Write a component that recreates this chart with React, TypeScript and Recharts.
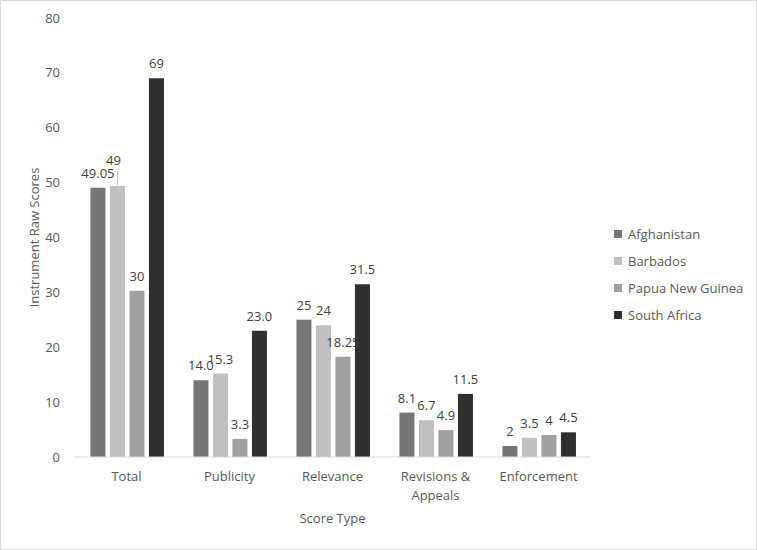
import { BarChart, Bar, XAxis, YAxis, LabelList } from "recharts";

const categories = ["Total", "Publicity", "Relevance", "Revisions & Appeals", "Enforcement"];

const afghanistan = [49.05, 14.0, 25, 8.1, 2];
const barbados = [49.4, 15.2, 24, 6.7, 3.5];
const papuaNewGuinea = [30.3, 3.3, 18.25, 4.9, 4];
const southAfrica = [69, 23.0, 31.5, 11.5, 4.5];

const afghanistanLabels = ["49.05", "14.0", "25", "8.1", "2"];
const barbadosLabels = ["49", "15.3", "24", "6.7", "3.5"];
const papuaNewGuineaLabels = ["30", "3.3", "18.25", "4.9", "4"];
const southAfricaLabels = ["69", "23.0", "31.5", "11.5", "4.5"];

const yTicks = [0, 10, 20, 30, 40, 50, 60, 70, 80];

const FONT = "'Open Sans', 'Liberation Sans', sans-serif";
const TEXT = "#595959";

const series = [
  { key: "Afghanistan", color: "#767676", values: afghanistan, labels: afghanistanLabels, lifted: [] as number[] },
  { key: "Barbados", color: "#c0c0c0", values: barbados, labels: barbadosLabels, lifted: [0] },
  { key: "Papua New Guinea", color: "#a0a0a0", values: papuaNewGuinea, labels: papuaNewGuineaLabels, lifted: [] as number[] },
  { key: "South Africa", color: "#303030", values: southAfrica, labels: southAfricaLabels, lifted: [] as number[] },
];

const data = categories.map((category, i) => {
  const row: Record<string, string | number> = { category };
  series.forEach((s) => {
    row[s.key] = s.values[i];
  });
  return row;
});

// wrap long category names onto two lines, like Excel does
const wrap = (label: string, max = 12) => {
  const lines: string[] = [];
  let cur = "";
  label.split(" ").forEach((w) => {
    const next = cur ? cur + " " + w : w;
    if (next.length > max && cur) {
      lines.push(cur);
      cur = w;
    } else {
      cur = next;
    }
  });
  if (cur) lines.push(cur);
  return lines;
};

const CategoryTick = (props: any) => {
  const { x, y, payload } = props;
  const lines = wrap(String(payload.value));
  return (
    <text x={x} y={y} textAnchor="middle" fill={TEXT} fontSize={13} fontFamily={FONT}>
      {lines.map((l, i) => (
        <tspan key={i} x={x} y={y + 24 + i * 19}>
          {l}
        </tspan>
      ))}
    </text>
  );
};

const makeLabel = (labels: string[], lifted: number[]) => (props: any) => {
  const { x, y, width, index } = props;
  const cx = Number(x) + Number(width) / 2;
  const top = Number(y);
  const lift = lifted.includes(index) ? 11 : 0;
  return (
    <g>
      {lift > 0 && <line x1={cx} x2={cx} y1={top - 1} y2={top - 15} stroke="#bfbfbf" strokeWidth={1} />}
      <text
        x={lift > 0 ? cx - 4 : cx}
        y={top - 10 - lift}
        textAnchor="middle"
        fill="#404040"
        fontSize={13}
        fontFamily={FONT}
      >
        {labels[index]}
      </text>
    </g>
  );
};

const YTitle = (props: any) => {
  const { viewBox } = props;
  const cx = viewBox.x + 34;
  const cy = viewBox.y + viewBox.height / 2;
  return (
    <text
      x={cx}
      y={cy}
      transform={`rotate(-90, ${cx}, ${cy})`}
      textAnchor="middle"
      dominantBaseline="central"
      fill={TEXT}
      fontSize={13}
      fontFamily={FONT}
    >
      Instrument Raw Scores
    </text>
  );
};

const XTitle = (props: any) => {
  const { viewBox } = props;
  const cx = viewBox.x + viewBox.width / 2;
  return (
    <text x={cx} y={viewBox.y + 66} textAnchor="middle" fill={TEXT} fontSize={13} fontFamily={FONT}>
      Score Type
    </text>
  );
};

const App = () => {
  return (
    <div
      style={{
        position: "absolute",
        left: 0,
        top: 0,
        width: 757,
        height: 550,
        border: "1px solid #d9d9d9",
        boxSizing: "border-box",
        background: "#fff",
        fontFamily: FONT,
      }}
    >
      <div style={{ position: "absolute", left: -1, top: -1 }}>
        <BarChart
          width={757}
          height={550}
          data={data}
          margin={{ top: 18, right: 167, bottom: 63, left: 0 }}
          barCategoryGap="15%"
          barGap={4.5}
        >
          <XAxis
            dataKey="category"
            height={30}
            axisLine={{ stroke: "#d9d9d9" }}
            tickLine={false}
            tickSize={0}
            tickMargin={0}
            interval={0}
            tick={<CategoryTick />}
            label={<XTitle />}
          />
          <YAxis
            width={75}
            domain={[0, 80]}
            ticks={yTicks}
            interval={0}
            axisLine={false}
            tickLine={false}
            tickSize={0}
            tickMargin={15}
            tick={{ fill: TEXT, fontSize: 13, fontFamily: FONT }}
            label={<YTitle />}
          />
          {series.map((s) => (
            <Bar key={s.key} dataKey={s.key} fill={s.color} isAnimationActive={false}>
              <LabelList dataKey={s.key} content={makeLabel(s.labels, s.lifted)} />
            </Bar>
          ))}
        </BarChart>
      </div>
      <div style={{ position: "absolute", left: 613, top: 219 }}>
        {series.map((s) => (
          <div
            key={s.key}
            style={{ display: "flex", alignItems: "center", height: 27, fontSize: 13, color: TEXT }}
          >
            <span style={{ width: 8, height: 8, background: s.color, marginRight: 6, display: "inline-block" }} />
            <span>{s.key}</span>
          </div>
        ))}
      </div>
    </div>
  );
};

export default App;
